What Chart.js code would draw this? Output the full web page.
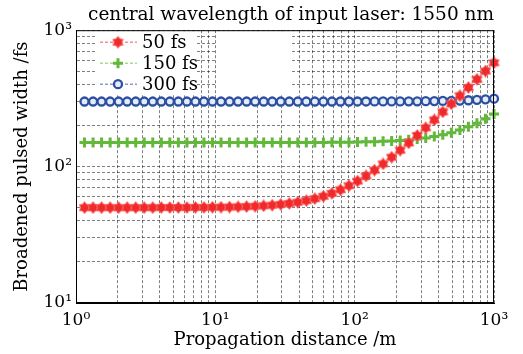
<!DOCTYPE html>
<html>
<head>
<meta charset="utf-8">
<script src="https://cdn.jsdelivr.net/npm/chart.js@4/dist/chart.umd.min.js"></script>
<style>
  html, body { margin: 0; padding: 0; background: #fff; }
  canvas { display: block; }
</style>
</head>
<body>
<canvas id="myChart" width="523" height="354"></canvas>
<script>
// propagation distance (m)
const distance = [1.151, 1.326, 1.526, 1.758, 2.024, 2.330, 2.683, 3.089, 3.556, 4.095,
  4.715, 5.429, 6.251, 7.197, 8.286, 9.541, 10.99, 12.65, 14.56, 16.77,
  19.31, 22.23, 25.60, 29.47, 33.93, 39.07, 44.99, 51.80, 59.64, 68.66,
  79.06, 91.03, 104.8, 120.7, 138.9, 160.0, 184.2, 212.1, 244.2, 281.2,
  323.7, 372.8, 429.2, 494.2, 569.0, 655.1, 754.3, 868.5, 1000];

// broadened pulse width (fs)
const width50 = [50.0, 50.0, 50.0, 50.0, 50.0, 50.0, 50.0, 50.0, 50.0, 50.1,
  50.1, 50.1, 50.1, 50.2, 50.2, 50.3, 50.4, 50.5, 50.7, 50.9,
  51.2, 51.6, 52.1, 52.8, 53.7, 54.8, 56.3, 58.2, 60.6, 63.7,
  67.6, 72.4, 78.3, 85.5, 94.2, 104.7, 117.1, 131.8, 149.0, 169.2,
  192.6, 220.0, 251.7, 288.4, 330.8, 379.8, 436.4, 501.6, 576.9];
const width150 = [150.0, 150.0, 150.0, 150.0, 150.0, 150.0, 150.0, 150.0, 150.0, 150.0,
  150.0, 150.0, 150.0, 150.0, 150.0, 150.0, 150.0, 150.0, 150.0, 150.0,
  150.0, 150.1, 150.1, 150.1, 150.1, 150.2, 150.2, 150.3, 150.4, 150.6,
  150.8, 151.0, 151.3, 151.8, 152.3, 153.1, 154.1, 155.4, 157.1, 159.4,
  162.3, 166.1, 171.1, 177.4, 185.4, 195.6, 208.3, 224.0, 243.3];
const width300 = [300.0, 300.0, 300.0, 300.0, 300.0, 300.0, 300.0, 300.0, 300.0, 300.0,
  300.0, 300.0, 300.0, 300.0, 300.0, 300.0, 300.0, 300.0, 300.0, 300.0,
  300.0, 300.0, 300.0, 300.0, 300.0, 300.0, 300.0, 300.0, 300.0, 300.0,
  300.1, 300.1, 300.2, 300.2, 300.3, 300.4, 300.5, 300.7, 300.9, 301.2,
  301.6, 302.1, 302.8, 303.7, 304.9, 306.5, 308.6, 311.3, 314.9];

const seriesNames = ["50 fs", "150 fs", "300 fs"];

const xDecades = [1, 10, 100, 1000];
const xDecadeLabels = ["10\u2070", "10\u00b9", "10\u00b2", "10\u00b3"];
const yDecades = [10, 100, 1000];
const yDecadeLabels = ["10\u00b9", "10\u00b2", "10\u00b3"];

const FONT = "'DejaVu Serif', 'Liberation Serif', serif";

// grid lines at every 1..9 of each decade
function decadeGrid(decades) {
  const out = [];
  for (let d = 0; d < decades.length - 1; d++) {
    for (let m = 1; m < 10; m++) out.push(decades[d] * m);
  }
  out.push(decades[decades.length - 1]);
  return out;
}
const xGrid = decadeGrid(xDecades);
const yGrid = decadeGrid(yDecades);

function pairs(ys) {
  return distance.map((d, i) => ({ x: d, y: ys[i] }));
}

// filled six point star for the 50 fs markers
function makeHexagram(fill, edge) {
  const c = document.createElement("canvas");
  c.width = 13;
  c.height = 13;
  const g = c.getContext("2d");
  g.beginPath();
  for (let k = 0; k < 12; k++) {
    const r = k % 2 === 0 ? 5.9 : 3.9;
    const a = -Math.PI / 2 + k * Math.PI / 6;
    const px = 6.5 + r * Math.cos(a), py = 6.5 + r * Math.sin(a);
    if (k === 0) g.moveTo(px, py); else g.lineTo(px, py);
  }
  g.closePath();
  g.fillStyle = fill;
  g.fill();
  g.strokeStyle = edge;
  g.lineWidth = 0.8;
  g.stroke();
  return c;
}
const starImg = makeHexagram("#f02a2a", "#ff6a6a");

// white patches that hide the grid behind the legend
const framePlugin = {
  id: "frame",
  beforeDatasetsDraw(chart) {
    const { ctx, chartArea: a } = chart;
    ctx.save();
    ctx.fillStyle = "#fff";
    ctx.fillRect(a.left + 19, a.top + 1, 102, 64);
    ctx.fillRect(a.left + 141, a.top + 1, 75, 64);
    ctx.restore();
  },
  afterDraw(chart) {
    const { ctx, chartArea: a } = chart;
    ctx.save();
    ctx.strokeStyle = "#000";
    ctx.lineWidth = 1;
    ctx.strokeRect(a.left + 0.5, a.top + 0.5, a.right - a.left - 1, a.bottom - a.top - 1);
    ctx.restore();
  }
};

// legend inside the plot, top left
const legendPlugin = {
  id: "insideLegend",
  afterDatasetsDraw(chart) {
    const { ctx, chartArea: a } = chart;
    ctx.save();
    chart.data.datasets.forEach((ds, i) => {
      const y = a.top + 12 + i * 21;
      ctx.strokeStyle = ds.borderColor;
      ctx.lineWidth = ds.borderWidth;
      ctx.setLineDash(ds.borderDash);
      ctx.beginPath();
      ctx.moveTo(a.left + 24, y);
      ctx.lineTo(a.left + 61, y);
      ctx.stroke();
      ctx.setLineDash([]);
      ctx.fillStyle = ds.pointBackgroundColor;
      ctx.strokeStyle = ds.pointBorderColor;
      ctx.lineWidth = ds.pointBorderWidth;
      Chart.helpers.drawPoint(ctx, {
        pointStyle: ds.pointStyle, radius: ds.pointRadius,
        rotation: 0, borderWidth: ds.pointBorderWidth
      }, a.left + 42, y);
      ctx.fillStyle = "#000";
      ctx.font = "18px " + FONT;
      ctx.textAlign = "left";
      ctx.textBaseline = "middle";
      ctx.fillText(ds.label, a.left + 66, y + 1);
    });
    ctx.restore();
  }
};

const ctx = document.getElementById("myChart");
new Chart(ctx, {
  type: "line",
  data: {
    datasets: [
      {
        label: seriesNames[0],
        data: pairs(width50),
        borderColor: "rgba(240, 70, 70, 0.6)",
        borderWidth: 1.5,
        borderDash: [3, 2],
        pointStyle: starImg,
        pointRadius: 5,
        pointBackgroundColor: "#f02a2a",
        pointBorderColor: "#f02a2a",
        pointBorderWidth: 1,
        clip: false
      },
      {
        label: seriesNames[1],
        data: pairs(width150),
        borderColor: "rgba(110, 195, 70, 0.6)",
        borderWidth: 1.5,
        borderDash: [3, 2],
        pointStyle: "cross",
        pointRadius: 5,
        pointBackgroundColor: "#62b83a",
        pointBorderColor: "#62b83a",
        pointBorderWidth: 3,
        clip: false
      },
      {
        label: seriesNames[2],
        data: pairs(width300),
        borderColor: "rgba(60, 90, 170, 0.6)",
        borderWidth: 1.5,
        borderDash: [3, 2],
        pointStyle: "circle",
        pointRadius: 4,
        pointBackgroundColor: "#e6ecf7",
        pointBorderColor: "#2b50a2",
        pointBorderWidth: 2.3,
        clip: false
      }
    ]
  },
  options: {
    responsive: false,
    animation: false,
    devicePixelRatio: 1,
    layout: { padding: { left: 0, right: 29, top: 0, bottom: 0 } },
    plugins: {
      legend: { display: false },
      tooltip: { enabled: false },
      title: {
        display: true,
        text: "central wavelength of input laser: 1550 nm",
        align: "end",
        color: "#000",
        font: { family: FONT, size: 18.5, weight: "normal" },
        padding: { top: 4, bottom: 4 }
      }
    },
    scales: {
      x: {
        type: "logarithmic",
        min: 1,
        max: 1000,
        afterFit: s => { s.height = 51; },
        afterBuildTicks: s => { s.ticks = xGrid.map(v => ({ value: v })); },
        grid: { color: "rgba(0,0,0,0.5)", lineWidth: 1, drawTicks: false },
        border: { display: true, color: "#000", width: 1, dash: [3, 2] },
        ticks: {
          autoSkip: false,
          maxRotation: 0,
          padding: 7,
          color: "#000",
          font: { family: FONT, size: 17 },
          callback: v => {
            const k = xDecades.indexOf(v);
            return k < 0 ? "" : xDecadeLabels[k];
          }
        },
        title: {
          display: true,
          text: "Propagation distance /m",
          color: "#000",
          font: { family: FONT, size: 18 },
          padding: { top: 0, bottom: 3 }
        }
      },
      y: {
        type: "logarithmic",
        min: 10,
        max: 1000,
        afterFit: s => { s.width = 76; },
        afterBuildTicks: s => { s.ticks = yGrid.map(v => ({ value: v })); },
        grid: { color: "rgba(0,0,0,0.5)", lineWidth: 1, drawTicks: false },
        border: { display: true, color: "#000", width: 1, dash: [3, 2] },
        ticks: {
          autoSkip: false,
          padding: 4,
          color: "#000",
          font: { family: FONT, size: 17 },
          callback: v => {
            const k = yDecades.indexOf(v);
            return k < 0 ? "" : yDecadeLabels[k];
          }
        },
        title: {
          display: true,
          text: "Broadened pulsed width /fs",
          color: "#000",
          font: { family: FONT, size: 18 },
          padding: { top: 12, bottom: 0 }
        }
      }
    }
  },
  plugins: [framePlugin, legendPlugin]
});
</script>
</body>
</html>
